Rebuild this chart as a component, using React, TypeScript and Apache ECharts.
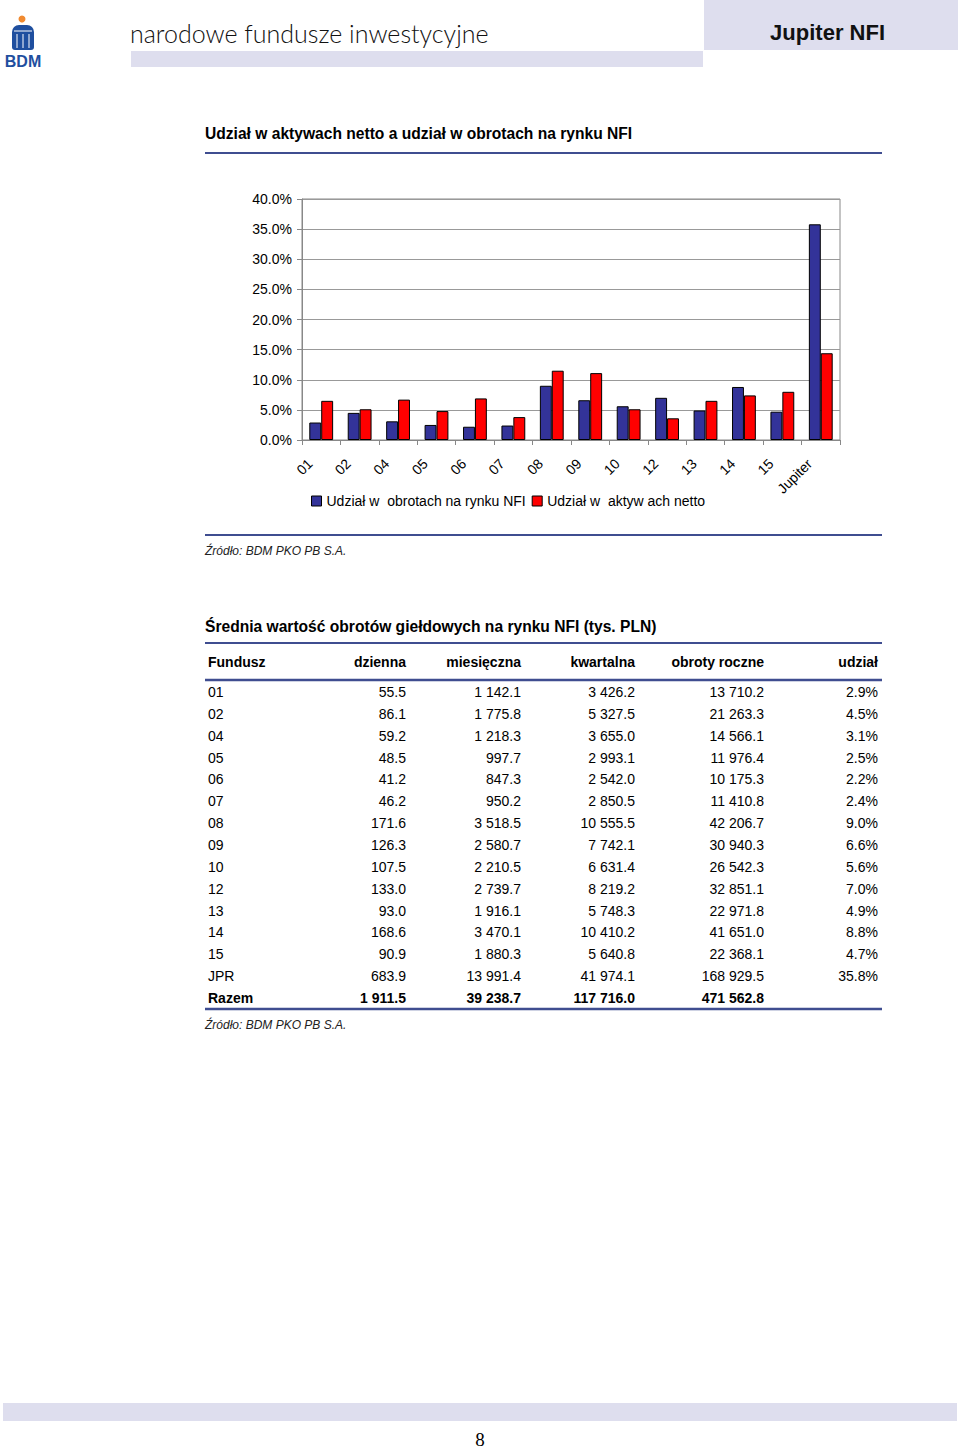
import React, { useEffect, useRef } from "react";
import * as echarts from "echarts";

const categories = ["01", "02", "04", "05", "06", "07", "08", "09", "10", "12", "13", "14", "15", "Jupiter"];
const turnoverShare = [2.9, 4.5, 3.1, 2.5, 2.2, 2.4, 9.0, 6.6, 5.6, 7.0, 4.9, 8.8, 4.7, 35.8];
const netAssetShare = [6.5, 5.1, 6.7, 4.8, 6.9, 3.8, 11.5, 11.1, 5.1, 3.6, 6.5, 7.4, 8.0, 14.4];
const seriesNames = ["Udział w  obrotach na rynku NFI", "Udział w  aktyw ach netto"];

const headers = ["Fundusz", "dzienna", "miesięczna", "kwartalna", "obroty roczne", "udział"];
const funds = ["01", "02", "04", "05", "06", "07", "08", "09", "10", "12", "13", "14", "15", "JPR"];
const daily = [55.5, 86.1, 59.2, 48.5, 41.2, 46.2, 171.6, 126.3, 107.5, 133.0, 93.0, 168.6, 90.9, 683.9];
const monthly = [1142.1, 1775.8, 1218.3, 997.7, 847.3, 950.2, 3518.5, 2580.7, 2210.5, 2739.7, 1916.1, 3470.1, 1880.3, 13991.4];
const quarterly = [3426.2, 5327.5, 3655.0, 2993.1, 2542.0, 2850.5, 10555.5, 7742.1, 6631.4, 8219.2, 5748.3, 10410.2, 5640.8, 41974.1];
const annual = [13710.2, 21263.3, 14566.1, 11976.4, 10175.3, 11410.8, 42206.7, 30940.3, 26542.3, 32851.1, 22971.8, 41651.0, 22368.1, 168929.5];
const share = [2.9, 4.5, 3.1, 2.5, 2.2, 2.4, 9.0, 6.6, 5.6, 7.0, 4.9, 8.8, 4.7, 35.8];
const totalLabel = "Razem";
const totals = [1911.5, 39238.7, 117716.0, 471562.8];

const FONT = "'Liberation Sans', Arial, Helvetica, sans-serif";
const LAV = "#dedeee";
const RULE = "#3f4d90";

const fmt = (v: number) => {
  const [i, d] = v.toFixed(1).split(".");
  return i.replace(/\B(?=(\d{3})+(?!\d))/g, " ") + "." + d;
};

function txt(text: string, x: number, y: number, opts: any = {}) {
  return {
    type: "text",
    x,
    y,
    silent: true,
    style: {
      text,
      fontSize: opts.fontSize ?? 14,
      fontFamily: opts.fontFamily ?? FONT,
      fontWeight: opts.fontWeight ?? "normal",
      fontStyle: opts.fontStyle ?? "normal",
      fill: opts.fill ?? "#000",
      align: opts.align ?? "left",
      verticalAlign: opts.verticalAlign ?? "middle",
    },
  };
}

function rule(x1: number, x2: number, y: number, w = 2, color = RULE) {
  return { type: "line", silent: true, shape: { x1, y1: y, x2, y2: y }, style: { stroke: color, lineWidth: w } };
}

export default function App() {
  const ref = useRef<HTMLDivElement>(null);
  useEffect(() => {
    if (!ref.current) return;
    const chart = echarts.init(ref.current, undefined, { renderer: "svg" });

    const graphics: any[] = [];
    // header
    graphics.push({ type: "rect", silent: true, shape: { x: 704, y: 0, width: 254, height: 50 }, style: { fill: LAV } });
    graphics.push({ type: "rect", silent: true, shape: { x: 131, y: 51, width: 572, height: 16 }, style: { fill: LAV } });
    graphics.push(txt("narodowe fundusze inwestycyjne", 130, 33, { fontSize: 25, fontFamily: "Lato, 'Open Sans', sans-serif", fontWeight: 300, fill: "#111" }));
    graphics.push(txt("Jupiter NFI", 885, 32, { fontSize: 22, fontFamily: "'Liberation Sans Narrow', 'Liberation Sans', Arial, sans-serif", fontWeight: "bold", align: "right", fill: "#111" }));
    // logo
    graphics.push({ type: "circle", silent: true, shape: { cx: 22, cy: 19, r: 3.5 }, style: { fill: "#f08a30" } });
    graphics.push({ type: "rect", silent: true, shape: { x: 12, y: 25, width: 22, height: 25, r: [7, 7, 3, 3] }, style: { fill: "#1f4f9f" } });
    graphics.push({ type: "line", silent: true, shape: { x1: 14, y1: 31, x2: 32, y2: 31 }, style: { stroke: "#fff", lineWidth: 1 } });
    graphics.push({ type: "line", silent: true, shape: { x1: 17, y1: 34, x2: 17, y2: 48 }, style: { stroke: "#fff", lineWidth: 1 } });
    graphics.push({ type: "line", silent: true, shape: { x1: 23, y1: 34, x2: 23, y2: 48 }, style: { stroke: "#fff", lineWidth: 1 } });
    graphics.push({ type: "line", silent: true, shape: { x1: 29, y1: 34, x2: 29, y2: 48 }, style: { stroke: "#fff", lineWidth: 1 } });
    graphics.push(txt("BDM", 23, 61, { fontSize: 16, fontWeight: "bold", fill: "#1f4f9f", align: "center" }));

    // chart title
    graphics.push(txt("Udział w aktywach netto a udział w obrotach na rynku NFI", 205, 133, { fontSize: 15.6, fontWeight: "bold" }));
    graphics.push(rule(205, 882, 153));
    graphics.push(rule(205, 882, 535));
    graphics.push(txt("Źródło: BDM PKO PB S.A.", 205, 551, { fontSize: 12, fontStyle: "italic", fill: "#222" }));

    // table
    graphics.push(txt("Średnia wartość obrotów giełdowych na rynku NFI (tys. PLN)", 205, 626, { fontSize: 15.6, fontWeight: "bold" }));
    graphics.push(rule(205, 882, 643));
    const colRight = [406, 521, 635, 764, 878];
    const headY = 662;
    graphics.push(txt(headers[0], 208, headY, { fontWeight: "bold" }));
    for (let c = 1; c < headers.length; c++) {
      graphics.push(txt(headers[c], colRight[c - 1], headY, { fontWeight: "bold", align: "right" }));
    }
    graphics.push(rule(205, 882, 680, 2.5));
    const rowY0 = 692;
    const step = 21.85;
    const cols = [daily, monthly, quarterly, annual];
    funds.forEach((f, r) => {
      const y = rowY0 + r * step;
      graphics.push(txt(f, 208, y));
      cols.forEach((col, c) => graphics.push(txt(fmt(col[r]), colRight[c], y, { align: "right" })));
      graphics.push(txt(share[r].toFixed(1) + "%", colRight[4], y, { align: "right" }));
    });
    const ty = rowY0 + funds.length * step;
    graphics.push(txt(totalLabel, 208, ty, { fontWeight: "bold" }));
    totals.forEach((v, c) => graphics.push(txt(fmt(v), colRight[c], ty, { fontWeight: "bold", align: "right" })));
    graphics.push(rule(205, 882, 1009, 2.5));
    graphics.push(txt("Źródło: BDM PKO PB S.A.", 205, 1025, { fontSize: 12, fontStyle: "italic", fill: "#222" }));

    // footer
    graphics.push({ type: "rect", silent: true, shape: { x: 3, y: 1403, width: 954, height: 18 }, style: { fill: LAV } });
    graphics.push(txt("8", 480, 1439, { fontSize: 19, fontFamily: "'Liberation Serif', 'DejaVu Serif', serif", align: "center" }));

    chart.setOption({
      animation: false,
      backgroundColor: "#fff",
      textStyle: { fontFamily: FONT },
      grid: { left: 302, top: 199, width: 538, height: 241, show: true, borderColor: "#888", borderWidth: 1, containLabel: false },
      legend: {
        data: seriesNames,
        left: 306,
        top: 489,
        itemWidth: 10,
        itemHeight: 10,
        itemGap: 6,
        icon: "rect",
        textStyle: { fontSize: 14, color: "#000", fontFamily: FONT },
        itemStyle: { borderColor: "#000", borderWidth: 1 },
      },
      xAxis: {
        type: "category",
        data: categories,
        axisLine: { lineStyle: { color: "#888" } },
        axisTick: { show: true, length: 5, lineStyle: { color: "#888" } },
        axisLabel: { rotate: 45, fontSize: 14, color: "#000", margin: 10, padding: [0, 16, 0, 0], interval: 0, fontFamily: FONT },
      },
      yAxis: {
        type: "value",
        min: 0,
        max: 40,
        interval: 5,
        axisLine: { show: true, lineStyle: { color: "#888" } },
        axisTick: { show: true, length: 5, lineStyle: { color: "#888" } },
        splitLine: { lineStyle: { color: "#999" } },
        axisLabel: { fontSize: 14, color: "#000", margin: 10, fontFamily: FONT, formatter: (v: number) => v.toFixed(1) + "%" },
      },
      series: [
        {
          name: seriesNames[0],
          type: "bar",
          data: turnoverShare,
          barGap: "0%",
          barCategoryGap: "38%",
          itemStyle: { color: "#333399", borderColor: "#000", borderWidth: 1 },
        },
        {
          name: seriesNames[1],
          type: "bar",
          data: netAssetShare,
          barGap: "0%",
          barCategoryGap: "38%",
          itemStyle: { color: "#ff0000", borderColor: "#000", borderWidth: 1 },
        },
      ],
      graphic: graphics,
    });
    return () => chart.dispose();
  }, []);
  return <div ref={ref} style={{ position: "absolute", left: 0, top: 0, width: 960, height: 1449 }} />;
}
